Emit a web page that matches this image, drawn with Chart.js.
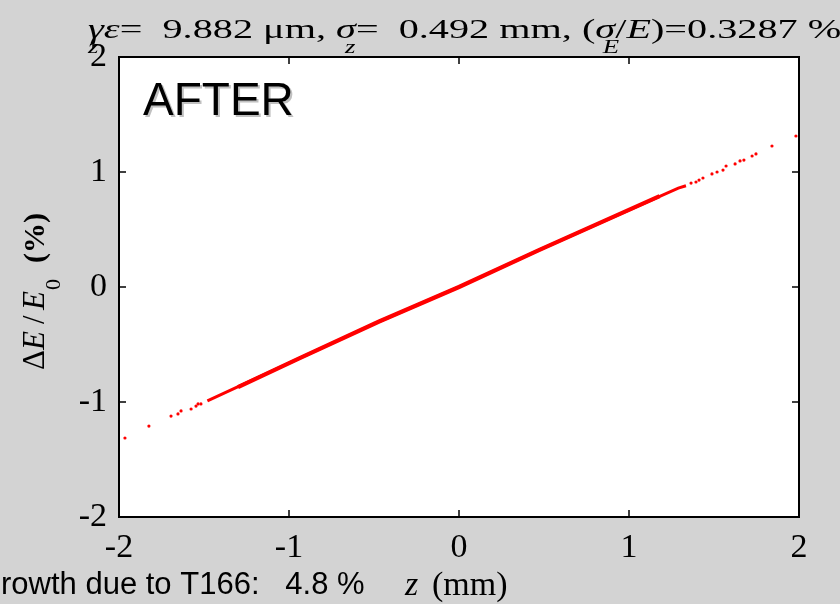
<!DOCTYPE html>
<html>
<head>
<meta charset="utf-8">
<script src="https://cdn.jsdelivr.net/npm/chart.js@4.4.1/dist/chart.umd.min.js"></script>
<style>
  html, body { margin: 0; padding: 0; background: #d3d3d3; }
  canvas { display: block; }
</style>
</head>
<body>
<canvas id="phase-chart" width="840" height="604"></canvas>
<script>
// sparse particles in the tails of the bunch (z in mm, dE/E0 in %)
let tailZ = [-1.965, -1.824, -1.694, -1.653, -1.635, -1.576, -1.547, -1.535, -1.518,
  1.365, 1.394, 1.412, 1.435, 1.488, 1.518, 1.553, 1.571, 1.624, 1.653, 1.676, 1.724, 1.747, 1.841, 1.982];
let tailDE = [-1.313, -1.209, -1.122, -1.104, -1.078, -1.061, -1.035, -1.017, -1.017,
  0.904, 0.913, 0.930, 0.948, 0.983, 1.000, 1.017, 1.052, 1.070, 1.096, 1.104, 1.139, 1.157, 1.226, 1.313];

// dense core of the bunch, traced along its centre
let coreZ = [-1.48, -0.94, -0.47, 0.0, 0.47, 1.29, 1.335];
let coreDE = [-0.99, -0.62, -0.30, 0.0, 0.32, 0.86, 0.88];
let innerZ = [-1.30, -0.94, -0.47, 0.0, 0.47, 1.18];
let innerDE = [-0.87, -0.62, -0.30, 0.0, 0.32, 0.79];

let xTicks = [-2, -1, 0, 1, 2];
let yTicks = [-2, -1, 0, 1, 2];

let toPoints = (xs, ys) => xs.map((x, i) => ({ x: x, y: ys[i] }));

let serif = 'Liberation Serif';
let sans = 'Liberation Sans';

// draws a row of text pieces; subscripts sit under the previous piece,
// a piece with "at" starts at that offset instead of following on
function drawRun(ctx, x, y, parts) {
  let cx = x;
  let last = x;
  for (const p of parts) {
    ctx.font = p.font;
    if (p.sub) {
      ctx.fillText(p.t, last + (p.dx || 0), y + p.sub);
      continue;
    }
    if (p.at !== undefined) cx = x + p.at;
    last = cx;
    ctx.fillText(p.t, cx, y);
    cx += ctx.measureText(p.t).width;
  }
  return cx;
}

let frame = {
  id: 'frame',
  beforeDraw(chart) {
    const { ctx, chartArea: a } = chart;
    ctx.save();
    ctx.fillStyle = '#ffffff';
    ctx.fillRect(a.left, a.top, a.right - a.left, a.bottom - a.top);
    ctx.restore();
  },
  afterDraw(chart) {
    const { ctx, chartArea: a, scales } = chart;
    ctx.save();
    ctx.strokeStyle = '#000';
    ctx.lineWidth = 2;
    ctx.strokeRect(a.left, a.top, a.right - a.left, a.bottom - a.top);

    // inward ticks on all four sides
    ctx.lineWidth = 1.5;
    ctx.beginPath();
    for (const v of xTicks) {
      const px = scales.x.getPixelForValue(v);
      ctx.moveTo(px, a.bottom); ctx.lineTo(px, a.bottom - 7);
      ctx.moveTo(px, a.top); ctx.lineTo(px, a.top + 7);
    }
    for (const v of yTicks) {
      const py = scales.y.getPixelForValue(v);
      ctx.moveTo(a.left, py); ctx.lineTo(a.left + 7, py);
      ctx.moveTo(a.right, py); ctx.lineTo(a.right - 7, py);
    }
    ctx.stroke();

    ctx.fillStyle = '#000';
    ctx.textBaseline = 'alphabetic';

    // title line
    ctx.save();
    ctx.translate(88, 38);
    ctx.scale(1.49, 1);
    drawRun(ctx, 0, 0, [
      { t: '\u03b3\u03b5', font: 'italic 27px ' + serif },
      { t: 'z', font: 'italic 18px ' + serif, sub: 15 },
      { t: '=  9.882 \u03bcm, ', font: '27px ' + serif },
      { t: '\u03c3', font: 'italic 27px ' + serif },
      { t: 'z', font: 'italic 18px ' + serif, sub: 15, dx: 6 },
      { t: '=  0.492 mm, (', font: '27px ' + serif },
      { t: '\u03c3', font: 'italic 27px ' + serif },
      { t: 'E', font: 'italic 18px ' + serif, sub: 15, dx: 5 },
      { t: '/', font: '27px ' + serif },
      { t: 'E', font: 'italic 27px ' + serif },
      { t: ')=0.3287 %', font: '27px ' + serif },
    ]);
    ctx.restore();

    // panel label with its soft shadow
    ctx.font = '46px ' + sans;
    ctx.fillStyle = '#c0c0c0';
    ctx.fillText('AFTER', 145, 117);
    ctx.fillStyle = '#000';
    ctx.fillText('AFTER', 143, 115);

    // x axis title and the growth note
    drawRun(ctx, 405, 595, [
      { t: 'z', font: 'italic 34px ' + serif },
      { t: '(mm)', font: '34px ' + serif, at: 27 },
    ]);
    ctx.font = '31px ' + sans;
    ctx.fillText('rowth due to T166:   4.8 %', 1, 594);

    // y axis title, rotated
    ctx.save();
    ctx.translate(44, 370);
    ctx.rotate(-Math.PI / 2);
    drawRun(ctx, 0, 0, [
      { t: '\u0394', font: '31px ' + serif },
      { t: 'E', font: 'italic 31px ' + serif, at: 20 },
      { t: '/', font: '31px ' + serif, at: 46 },
      { t: 'E', font: 'italic 31px ' + serif, at: 60 },
      { t: '0', font: '22px ' + serif, sub: 16, dx: 20 },
      { t: '(%)', font: 'bold 30px ' + serif, at: 107 },
    ]);
    ctx.restore();
    ctx.restore();
  }
};

let renderChart = () => {
  let canvas = document.getElementById('phase-chart');
  new Chart(canvas, {
    type: 'scatter',
    data: {
      datasets: [
        {
          label: 'tails',
          data: toPoints(tailZ, tailDE),
          backgroundColor: '#ff0000',
          borderWidth: 0,
          pointRadius: 1.6,
        },
        {
          label: 'core',
          data: toPoints(coreZ, coreDE),
          showLine: true,
          borderColor: '#ff0000',
          borderWidth: 3,
          pointRadius: 0,
        },
        {
          label: 'core dense',
          data: toPoints(innerZ, innerDE),
          showLine: true,
          borderColor: '#ff0000',
          borderWidth: 4.2,
          pointRadius: 0,
        },
      ],
    },
    options: {
      responsive: false,
      animation: false,
      layout: { padding: { top: 57, right: 41, left: 0, bottom: 0 } },
      plugins: { legend: { display: false }, tooltip: { enabled: false } },
      scales: {
        x: {
          type: 'linear',
          min: -2,
          max: 2,
          afterFit: (s) => { s.height = 87; },
          afterBuildTicks: (s) => { s.ticks = xTicks.map(v => ({ value: v })); },
          grid: { display: false },
          border: { display: false },
          ticks: { color: '#000', padding: 3, maxRotation: 0, font: { family: serif, size: 34 } },
        },
        y: {
          type: 'linear',
          min: -2,
          max: 2,
          afterFit: (s) => { s.width = 119; },
          afterBuildTicks: (s) => { s.ticks = yTicks.map(v => ({ value: v })); },
          grid: { display: false },
          border: { display: false },
          ticks: { color: '#000', padding: 4, font: { family: serif, size: 34 } },
        },
      },
    },
    plugins: [frame],
  });
};

renderChart();
</script>
</body>
</html>
